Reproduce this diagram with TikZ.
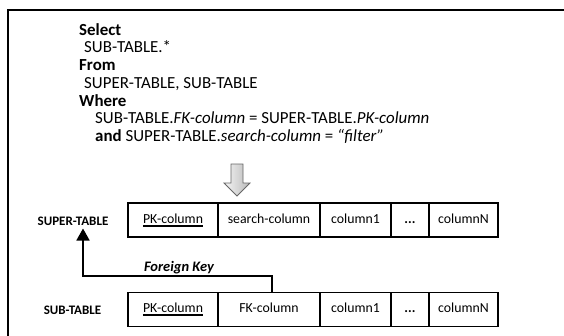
\documentclass[tikz,border=0pt]{standalone}
\usepackage{fontspec}
\setmainfont{Carlito}
\usetikzlibrary{arrows.meta}
\begin{document}
\begin{tikzpicture}[x=1pt,y=-1pt,
  qtext/.style={anchor=base west, inner sep=0, font=\fontsize{16.9}{18}\selectfont},
  cell/.style={draw, line width=1.8pt, minimum height=34pt, inner sep=0pt},
  celltext/.style={inner sep=0pt, text height=9.6pt, text depth=3pt, font=\fontsize{13.8}{15}\selectfont},
  tlabel/.style={inner sep=3pt, font=\fontsize{13}{15}\selectfont\bfseries},
  fk/.style={line width=1.8pt, -{Triangle[width=13pt,length=12pt]}},
  uline/.style={line width=2.4pt},
  frame/.style={line width=2pt},
  bigarrow/.style={draw=gray!80!black, line width=0.8pt, left color=gray!8, right color=gray!55},
  ]
\useasboundingbox (0,0) rectangle (564,335);
% frame (top and left edges only visible)
\draw[frame] (8,345) -- (8,10) -- (575,10);

% query text
\node[qtext] (q1) at (79,35.2) {\textbf{Select}};
\node[qtext] (q2) at (84,52.9) {SUB-TABLE.*};
\node[qtext] (q3) at (79,70.6) {\textbf{From}};
\node[qtext] (q4) at (84,88.3) {SUPER-TABLE, SUB-TABLE};
\node[qtext] (q5) at (79,106.0) {\textbf{Where}};
\node[qtext] (q6) at (95,123.7) {SUB-TABLE.\textit{FK-column} = SUPER-TABLE.\textit{PK-column}};
\node[qtext] (q7) at (95,141.4) {\textbf{and} SUPER-TABLE.\textit{search-column} = \textit{“filter”}};

% big down arrow
\path[bigarrow] (231,164) -- (243,164) -- (243,183) -- (250,183) -- (237,196) -- (224,183) -- (231,183) -- cycle;

% SUPER-TABLE
\node[tlabel] (lsuper) at (73,221) {SUPER-TABLE};
\node[cell, minimum width=90pt] (s1) at (173,220.25) {};
\node[cell, minimum width=102pt] (s2) at (269,220.25) {};
\node[cell, minimum width=71pt] (s3) at (355.5,220.25) {};
\node[cell, minimum width=38pt] (s4) at (410,220.25) {};
\node[cell, minimum width=69pt] (s5) at (463.5,220.25) {};
\node[celltext] (t1) at (s1) {PK-column};
\node[celltext] (t2) at (s2) {search-column};
\node[celltext] (t3) at (s3) {column1};
\node[celltext] (t4) at (s4) {\textbf{...}};
\node[celltext] (t5) at (s5) {columnN};
\draw[uline] ([yshift=-2.2pt]t1.base west) -- ([yshift=-2.2pt]t1.base east);

% SUB-TABLE
\node[tlabel] (lsub) at (72.5,310) {SUB-TABLE};
\node[cell, minimum width=90pt] (b1) at (173,309.5) {};
\node[cell, minimum width=102pt] (b2) at (269,309.5) {};
\node[cell, minimum width=71pt] (b3) at (355.5,309.5) {};
\node[cell, minimum width=38pt] (b4) at (410,309.5) {};
\node[cell, minimum width=69pt] (b5) at (463.5,309.5) {};
\node[celltext] (u1) at (b1) {PK-column};
\node[celltext] (u2) at (b2) {FK-column};
\node[celltext] (u3) at (b3) {column1};
\node[celltext] (u4) at (b4) {\textbf{...}};
\node[celltext] (u5) at (b5) {columnN};
\draw[uline] ([yshift=-2.2pt]u1.base west) -- ([yshift=-2.2pt]u1.base east);

% foreign key connector
\coordinate (bend) at (83,276);
\draw[fk] ([xshift=3pt]b2.north) |- (bend) -- (lsuper.south -| bend);
\node[font=\fontsize{14.5}{16}\selectfont\bfseries\itshape] (fklab) at (179,268) {Foreign Key};
\end{tikzpicture}
\end{document}
